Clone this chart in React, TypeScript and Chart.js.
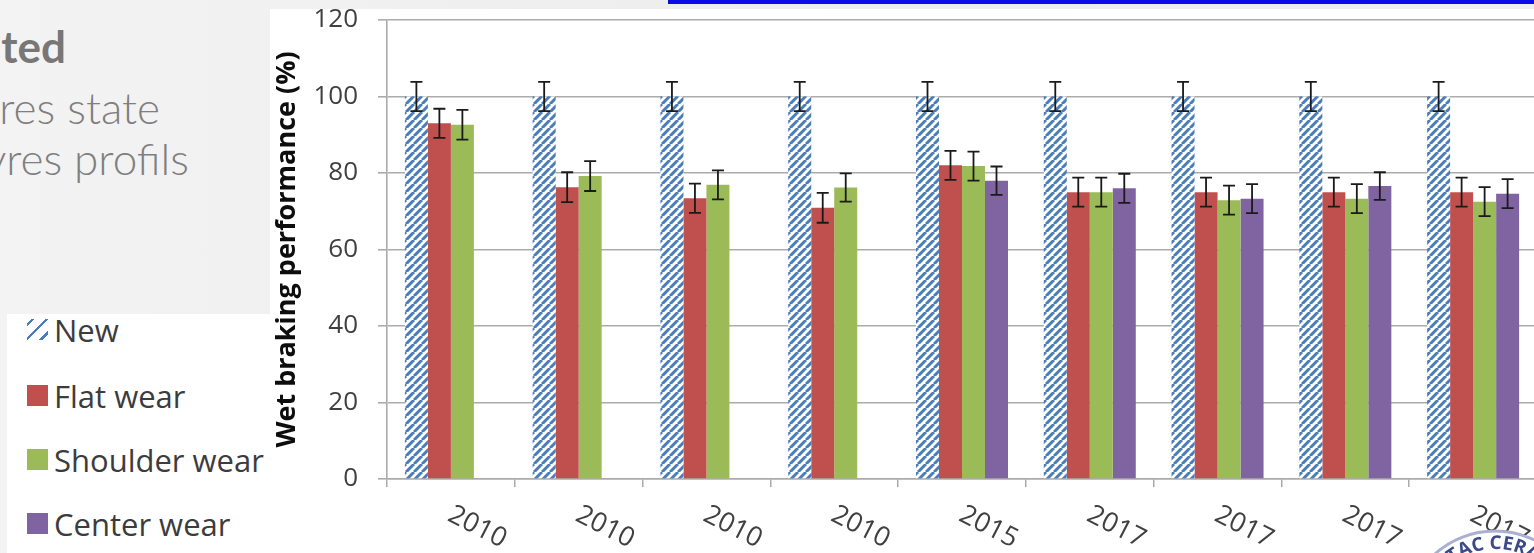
import React, { useEffect, useRef } from "react";
import { Chart, registerables } from "chart.js";

Chart.register(...registerables);

const categories = ["2010", "2010", "2010", "2010", "2015", "2017", "2017", "2017", "2017"];
const seriesNames = ["New", "Flat wear", "Shoulder wear", "Center wear"];
const newValues = [100, 100, 100, 100, 100, 100, 100, 100, 100];
const newErrors = [3.8, 3.8, 3.8, 3.8, 3.8, 3.8, 3.8, 3.8, 3.8];
const flatValues = [93, 76.3, 73.4, 70.9, 82, 75, 75, 75, 75];
const flatErrors = [3.8, 3.9, 3.8, 3.9, 3.8, 3.8, 3.8, 3.8, 3.8];
const shoulderValues = [92.6, 79.2, 76.9, 76.2, 81.8, 75, 72.9, 73.3, 72.5];
const shoulderErrors = [3.9, 3.9, 3.8, 3.7, 3.8, 3.8, 3.8, 3.8, 3.8];
const centerValues = [null, null, null, null, 78, 76, 73.3, 76.6, 74.6];
const centerErrors = [0, 0, 0, 0, 3.7, 3.8, 3.8, 3.6, 3.8];
const yMin = 0;
const yMax = 120;
const yStep = 20;
const yTitle = "Wet braking performance (%)";

const errorSets = [newErrors, flatErrors, shoulderErrors, centerErrors];

const COLORS = {
  blue: "#4a7ebb",
  red: "#c0504d",
  green: "#9bbb59",
  purple: "#8064a2",
  grid: "#ababab",
  text: "#404040",
};

function makeHatch(): CanvasPattern | string {
  const c = document.createElement("canvas");
  const s = 8;
  c.width = s;
  c.height = s;
  const g = c.getContext("2d");
  if (!g) return COLORS.blue;
  g.fillStyle = "#ffffff";
  g.fillRect(0, 0, s, s);
  g.strokeStyle = COLORS.blue;
  g.lineWidth = 3;
  g.beginPath();
  for (const o of [-s, 0, s]) {
    g.moveTo(o, s);
    g.lineTo(o + s, 0);
  }
  g.stroke();
  return g.createPattern(c, "repeat") || COLORS.blue;
}

const errorBarPlugin = {
  id: "errorBars",
  afterDatasetsDraw(chart: any) {
    const { ctx } = chart;
    const ys = chart.scales.y;
    ctx.save();
    ctx.strokeStyle = "#1a1a1a";
    ctx.lineWidth = 1.8;
    chart.data.datasets.forEach((ds: any, di: number) => {
      const errs = errorSets[di];
      const meta = chart.getDatasetMeta(di);
      meta.data.forEach((bar: any, i: number) => {
        const v = ds.data[i];
        if (v == null) return;
        const e = errs[i];
        const x = bar.x;
        const yt = ys.getPixelForValue(v + e);
        const yb = ys.getPixelForValue(v - e);
        ctx.beginPath();
        ctx.moveTo(x, yt);
        ctx.lineTo(x, yb);
        ctx.moveTo(x - 6, yt);
        ctx.lineTo(x + 6, yt);
        ctx.moveTo(x - 6, yb);
        ctx.lineTo(x + 6, yb);
        ctx.stroke();
      });
    });
    ctx.restore();
  },
};

const xLabelPlugin = {
  id: "xLabels",
  afterDraw(chart: any) {
    const { ctx } = chart;
    const xs = chart.scales.x;
    const bottom = chart.chartArea.bottom;
    ctx.save();
    ctx.font = "27px 'Open Sans'";
    ctx.fillStyle = COLORS.text;
    ctx.textAlign = "left";
    ctx.textBaseline = "top";
    categories.forEach((lab, i) => {
      const cx = xs.getPixelForValue(i);
      ctx.save();
      ctx.translate(cx + 5, bottom + 22);
      ctx.rotate((27 * Math.PI) / 180);
      ctx.fillText(lab, 0, 0);
      ctx.restore();
    });
    ctx.restore();
  },
};

const CANVAS_W = 1290;
const CANVAS_H = 553;

function BarChart() {
  const ref = useRef<HTMLCanvasElement | null>(null);
  useEffect(() => {
    if (!ref.current) return;
    const hatch = makeHatch();
    const chart = new Chart(ref.current, {
      type: "bar",
      data: {
        labels: categories,
        datasets: [
          { label: seriesNames[0], data: newValues, backgroundColor: hatch as any },
          { label: seriesNames[1], data: flatValues, backgroundColor: COLORS.red },
          { label: seriesNames[2], data: shoulderValues, backgroundColor: COLORS.green },
          { label: seriesNames[3], data: centerValues as any, backgroundColor: COLORS.purple },
        ],
      },
      options: {
        responsive: false,
        animation: false,
        devicePixelRatio: 1,
        datasets: {
          bar: { categoryPercentage: 0.72, barPercentage: 1, borderWidth: 0 },
        },
        layout: {
          autoPadding: false,
          padding: { left: 0, top: 20, right: 23, bottom: 0 },
        },
        plugins: {
          legend: { display: false },
          tooltip: { enabled: false },
          title: { display: false },
        },
        scales: {
          x: {
            type: "category",
            offset: true,
            grid: {
              offset: true,
              drawOnChartArea: false,
              drawTicks: true,
              tickLength: 8,
              color: COLORS.grid,
              lineWidth: 1.5,
            },
            border: { display: true, color: COLORS.grid, width: 1.5 },
            ticks: { display: false },
            afterFit: (scale: any) => {
              scale.height = 74;
              scale.paddingLeft = 0;
              scale.paddingRight = 0;
            },
          },
          y: {
            min: yMin,
            max: yMax,
            ticks: {
              stepSize: yStep,
              padding: 20,
              color: COLORS.text,
              font: { family: "'Open Sans'", size: 26 },
            },
            grid: {
              color: COLORS.grid,
              lineWidth: 1.6,
              drawTicks: true,
              tickLength: 9,
            },
            border: { display: true, color: COLORS.grid, width: 1.6 },
            title: {
              display: true,
              text: yTitle,
              color: "#0d0d0d",
              font: { family: "'Open Sans'", size: 27, weight: "bold" },
              padding: { top: 1, bottom: 0 },
            },
            afterFit: (scale: any) => {
              scale.width = 117;
              scale.paddingTop = 0;
              scale.paddingBottom = 0;
            },
          },
        },
      },
      plugins: [errorBarPlugin, xLabelPlugin],
    });
    return () => chart.destroy();
  }, []);
  return (
    <canvas
      ref={ref}
      width={CANVAS_W}
      height={CANVAS_H}
      style={{ position: "absolute", left: 270, top: 0, width: CANVAS_W, height: CANVAS_H }}
    />
  );
}

const legendItems = [
  { name: seriesNames[0], kind: "hatch", color: COLORS.blue, y: 330 },
  { name: seriesNames[1], kind: "solid", color: COLORS.red, y: 396 },
  { name: seriesNames[2], kind: "solid", color: COLORS.green, y: 460 },
  { name: seriesNames[3], kind: "solid", color: COLORS.purple, y: 524 },
];

export default function App() {
  const slideText: React.CSSProperties = {
    position: "absolute",
    fontFamily: "Lato, 'Open Sans', sans-serif",
    fontSize: 44,
    lineHeight: "44px",
    color: "#7f7f7f",
    whiteSpace: "nowrap",
    textAlign: "right",
  };
  return (
    <div
      style={{
        position: "fixed",
        left: 0,
        top: 0,
        width: 1534,
        height: 553,
        overflow: "hidden",
        background: "linear-gradient(90deg, #f3f3f3 0%, #ececec 60%, #efefef 100%)",
      }}
    >
      <div style={{ ...slideText, right: 1534 - 66, top: 24, fontWeight: 700, color: "#777777" }}>ted</div>
      <div style={{ ...slideText, right: 1534 - 160, top: 85, fontWeight: 300 }}>res state</div>
      <div style={{ ...slideText, right: 1534 - 189, top: 136, fontWeight: 300 }}>yres profils</div>

      <div style={{ position: "absolute", left: 668, top: 0, right: 0, height: 4, background: "#0b0be6" }} />
      <div style={{ position: "absolute", left: 270, top: 9, right: 0, bottom: 0, background: "#ffffff" }} />

      <div
        style={{
          position: "absolute",
          left: 7,
          top: 314,
          width: 263,
          height: 239,
          background: "#ffffff",
        }}
      >
        {legendItems.map((it) => (
          <div key={it.name}>
            <div
              style={{
                position: "absolute",
                left: 20,
                top: it.y - 314 - 11,
                width: 21,
                height: 21,
                background:
                  it.kind === "hatch"
                    ? `repeating-linear-gradient(135deg, transparent 0px, transparent 3px, ${it.color} 3px, ${it.color} 5.5px, transparent 5.5px, transparent 10px)`
                    : it.color,
              }}
            />
            <div
              style={{
                position: "absolute",
                left: 47,
                top: it.y - 314 - 21,
                height: 42,
                lineHeight: "42px",
                fontFamily: "'Open Sans', sans-serif",
                fontSize: 31,
                color: "#3c3c3c",
                whiteSpace: "nowrap",
              }}
            >
              {it.name}
            </div>
          </div>
        ))}
      </div>

      <BarChart />

      <svg
        width={134}
        height={53}
        style={{ position: "absolute", left: 1400, top: 500, overflow: "hidden" }}
      >
        <defs>
          <path id="logoArc" d="M 23 121 A 72 72 0 0 1 167 121" />
        </defs>
        <circle cx={95} cy={121} r={90} fill="#ffffff" stroke="#a9b0d0" strokeWidth={3} />
        <text fontFamily="'Open Sans', sans-serif" fontWeight={700} fontSize={19} fill="#3b4a8c">
          <textPath href="#logoArc" startOffset="50%" textAnchor="middle">
            UTAC CERAM
          </textPath>
        </text>
      </svg>
    </div>
  );
}
